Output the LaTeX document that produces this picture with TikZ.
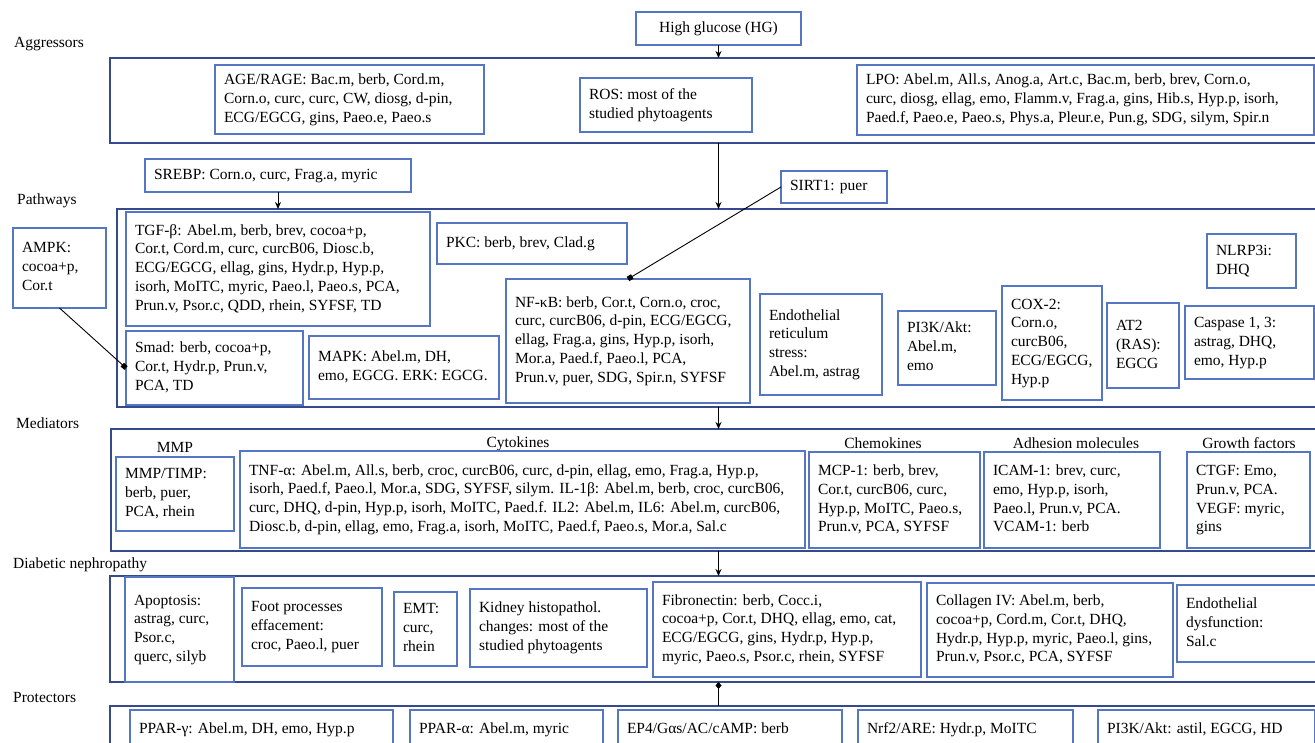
\documentclass[tikz,border=0pt]{standalone}
\usepackage{fontspec}
\setmainfont{Liberation Serif}
\usetikzlibrary{arrows.meta}
\definecolor{boxc}{RGB}{84,118,196}
\definecolor{frmc}{RGB}{52,74,140}
\newcommand{\fs}{\fontsize{15.5}{18.8}\selectfont}
\tikzset{
  bx/.style={draw=boxc, line width=1.3pt, anchor=north west, inner xsep=9pt, inner ysep=2pt, outer sep=0pt, font=\fs, fill=white},
  frm/.style={draw=frmc, line width=1.4pt, anchor=north west, inner sep=0pt, outer sep=0pt},
  lbl/.style={font=\fs, inner sep=0pt},
  arr/.style={-{Stealth[length=7pt,width=6pt]}, line width=1pt, black},
  sq/.style={-{Square[length=5pt,width=5pt]}, line width=0.9pt, black},
  dia/.style={-{Diamond[length=7pt,width=6pt]}, line width=1pt, black}
}
\newcommand{\bx}[6]{%
  \pgfmathsetmacro{\bxw}{#4-18}%
  \node[bx, minimum width=#4pt, minimum height=#5pt] (#1) at (#2,-#3)
    {\makebox[\bxw pt][l]{\begin{tabular}{@{}l@{}}#6\end{tabular}}};}
\begin{document}
\begin{tikzpicture}[x=1pt,y=1pt]
\useasboundingbox (0,0) rectangle (1315,-743);
% frames
\node[frm, minimum width=1215pt, minimum height=85pt] (agg) at (110,-58) {};
\node[frm, minimum width=1210pt, minimum height=198pt] (path) at (117,-209) {};
\node[frm, minimum width=1215pt, minimum height=122pt] (med) at (111,-429) {};
\node[frm, minimum width=1215pt, minimum height=106pt] (dn) at (110,-576) {};
\node[frm, minimum width=1215pt, minimum height=60pt] (prot) at (110,-706) {};
% row labels
\node[lbl, anchor=west] (lagg) at (14,-44) {Aggressors};
\node[lbl, anchor=west] (lpath) at (17,-201) {Pathways};
\node[lbl, anchor=west] (lmed) at (16,-423) {Mediators};
\node[lbl, anchor=west] (ldn) at (13,-565) {Diabetic nephropathy};
\node[lbl, anchor=west] (lprot) at (13,-697) {Protectors};
% top
\node[bx, minimum width=165pt, minimum height=33pt] (hg) at (636,-12) {High glucose (HG)};
% aggressors
\bx{age}{215}{65}{269}{69}{AGE/RAGE: Bac.m, berb, Cord.m,\\Corn.o, curc, curc, CW, diosg, d-pin,\\ECG/EGCG, gins, Paeo.e, Paeo.s}
\bx{ros}{580}{78}{172}{54}{ROS: most of the\\studied phytoagents}
\bx{lpo}{857}{65}{457}{70}{LPO: Abel.m, All.s, Anog.a, Art.c, Bac.m, berb, brev, Corn.o,\\curc, diosg, ellag, emo, Flamm.v, Frag.a, gins, Hib.s, Hyp.p, isorh,\\Paed.f, Paeo.e, Paeo.s, Phys.a, Pleur.e, Pun.g, SDG, silym, Spir.n}
% pathways
\bx{srebp}{145}{159}{266}{33}{SREBP: Corn.o, curc, Frag.a, myric}
\bx{sirt}{781}{171}{106}{32}{SIRT1: puer}
\bx{tgf}{126}{212}{304}{114}{TGF-β: Abel.m, berb, brev, cocoa+p,\\Cor.t, Cord.m, curc, curcB06, Diosc.b,\\ECG/EGCG, ellag, gins, Hydr.p, Hyp.p,\\isorh, MoITC, myric, Paeo.l, Paeo.s, PCA,\\Prun.v, Psor.c, QDD, rhein, SYFSF, TD}
\bx{ampk}{13}{228}{93}{80}{AMPK:\\cocoa+p,\\Cor.t}
\bx{smad}{126}{331}{177}{74}{Smad: berb, cocoa+p,\\Cor.t, Hydr.p, Prun.v,\\PCA, TD}
\bx{mapk}{309}{336}{190}{63}{MAPK: Abel.m, DH,\\emo, EGCG. ERK: EGCG.}
\bx{pkc}{437}{223}{190}{41}{PKC: berb, brev, Clad.g}
\bx{nfkb}{506}{279}{244}{124}{NF-κB: berb, Cor.t, Corn.o, croc,\\curc, curcB06, d-pin, ECG/EGCG,\\ellag, Frag.a, gins, Hyp.p, isorh,\\Mor.a, Paed.f, Paeo.l, PCA,\\Prun.v, puer, SDG, Spir.n, SYFSF}
\bx{ers}{760}{294}{122}{101}{Endothelial\\reticulum\\stress:\\Abel.m, astrag}
\bx{pi3k}{898}{311}{98}{74}{PI3K/Akt:\\Abel.m,\\emo}
\bx{cox}{1002}{286}{100}{114}{COX-2:\\Corn.o,\\curcB06,\\ECG/EGCG,\\Hyp.p}
\bx{at2}{1107}{303}{72}{85}{AT2\\(RAS):\\EGCG}
\bx{casp}{1185}{306}{129}{73}{Caspase 1, 3:\\astrag, DHQ,\\emo, Hyp.p}
\bx{nlrp}{1207}{234}{89}{54}{NLRP3i:\\DHQ}
% mediators
\node[lbl] (hmmp) at (175,-447) {MMP};
\node[lbl] (hcyt) at (518,-444) {Cytokines};
\node[lbl] (hchem) at (883,-443) {Chemokines};
\node[lbl] (hadh) at (1076,-443) {Adhesion molecules};
\node[lbl] (hgro) at (1249,-443) {Growth factors};
\bx{mmp}{116}{457}{118}{74}{MMP/TIMP:\\berb, puer,\\PCA, rhein}
\bx{cyt}{240}{451}{565}{97}{TNF-α: Abel.m, All.s, berb, croc, curcB06, curc, d-pin, ellag, emo, Frag.a, Hyp.p,\\isorh, Paed.f, Paeo.l, Mor.a, SDG, SYFSF, silym. IL-1β: Abel.m, berb, croc, curcB06,\\curc, DHQ, d-pin, Hyp.p, isorh, MoITC, Paed.f. IL2: Abel.m, IL6: Abel.m, curcB06,\\Diosc.b, d-pin, ellag, emo, Frag.a, isorh, MoITC, Paed.f, Paeo.s, Mor.a, Sal.c}
\bx{chem}{809}{452}{171}{96}{MCP-1: berb, brev,\\Cor.t, curcB06, curc,\\Hyp.p, MoITC, Paeo.s,\\Prun.v, PCA, SYFSF}
\bx{adh}{984}{452}{176}{96}{ICAM-1: brev, curc,\\emo, Hyp.p, isorh,\\Paeo.l, Prun.v, PCA.\\VCAM-1: berb}
\bx{gro}{1187}{452}{123}{96}{CTGF: Emo,\\Prun.v, PCA.\\VEGF: myric,\\gins}
% diabetic nephropathy
\bx{apo}{125}{577}{109}{105}{Apoptosis:\\astrag, curc,\\Psor.c,\\querc, silyb}
\bx{foot}{242}{588}{140}{78}{Foot processes\\effacement:\\croc, Paeo.l, puer}
\bx{emt}{394}{592}{63}{74}{EMT:\\curc,\\rhein}
\bx{kid}{470}{589}{177}{78}{Kidney histopathol.\\changes: most of the\\studied phytoagents}
\bx{fib}{653}{582}{268}{95}{Fibronectin: berb, Cocc.i,\\cocoa+p, Cor.t, DHQ, ellag, emo, cat,\\ECG/EGCG, gins, Hydr.p, Hyp.p,\\myric, Paeo.s, Psor.c, rhein, SYFSF}
\bx{col}{927}{583}{246}{94}{Collagen IV: Abel.m, berb,\\cocoa+p, Cord.m, Cor.t, DHQ,\\Hydr.p, Hyp.p, myric, Paeo.l, gins,\\Prun.v, Psor.c, PCA, SYFSF}
\bx{endo}{1177}{585}{140}{77}{Endothelial\\dysfunction:\\Sal.c}
% protectors
\bx{pparg}{130}{710}{263}{40}{PPAR-γ: Abel.m, DH, emo, Hyp.p}
\bx{ppara}{410}{710}{193}{40}{PPAR-α: Abel.m, myric}
\bx{ep4}{618}{710}{224}{40}{EP4/Gαs/AC/cAMP: berb}
\bx{nrf}{858}{710}{215}{40}{Nrf2/ARE: Hydr.p, MoITC}
\bx{pik}{1098}{710}{217}{40}{PI3K/Akt: astil, EGCG, HD}
% connectors
\draw[arr] (hg.south) -- (hg.south |- agg.north);
\draw[arr] (hg.south |- agg.south) -- (hg.south |- path.north);
\draw[arr] (srebp.south) -- (srebp.south |- path.north);
\draw[sq] (sirt.west) -- (nfkb.north);
\draw[sq] (ampk.south) -- (smad.west);
\draw[arr] (hg.south |- path.south) -- (hg.south |- med.north);
\draw[arr] (hg.south |- med.south) -- (hg.south |- dn.north);
\draw[dia] (hg.south |- prot.north) -- (hg.south |- dn.south);
\end{tikzpicture}
\end{document}
